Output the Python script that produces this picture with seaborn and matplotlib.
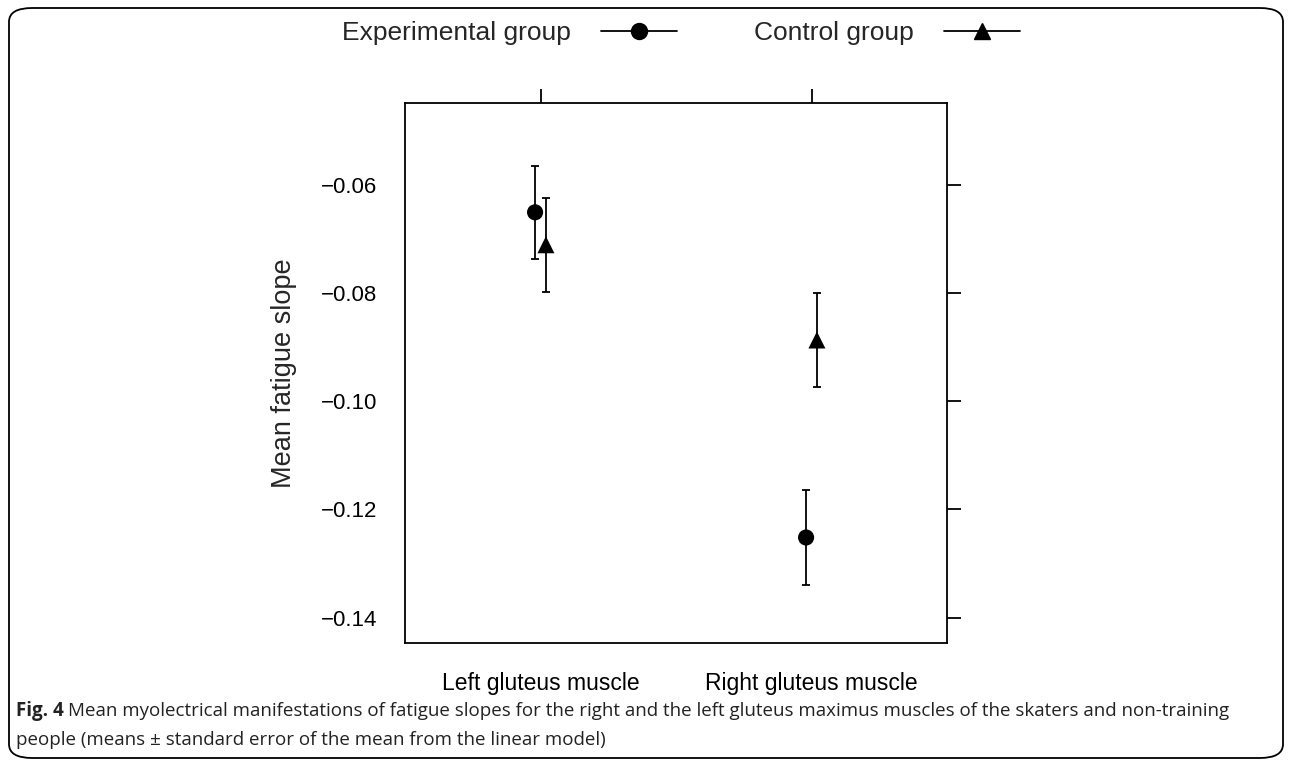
import matplotlib
matplotlib.use("Agg")
import matplotlib.pyplot as plt
import seaborn as sns
import pandas as pd
from matplotlib.lines import Line2D
from matplotlib.patches import FancyBboxPatch

# ---- data ----
muscles = ["Left gluteus muscle", "Right gluteus muscle"]
groups = ["Experimental group", "Control group"]
exp_mean = [-0.0651, -0.1252]
exp_se = [0.0086, 0.0087]
ctl_mean = [-0.0711, -0.0887]
ctl_se = [0.0087, 0.0086]
y_ticks = [-0.14, -0.12, -0.10, -0.08, -0.06]

sns.set_theme(style="white")
plt.rcParams["font.family"] = ["Liberation Sans", "DejaVu Sans"]

W, H = 1292, 766
fig = plt.figure(figsize=(W / 100, H / 100), dpi=100)

# rounded outer border
fig.patches.append(FancyBboxPatch((9 / W, 8 / H), (1283 - 9) / W, (758 - 8) / H,
                                  boxstyle="round,pad=0,rounding_size=0.018",
                                  transform=fig.transFigure, fill=False,
                                  edgecolor="black", linewidth=1.3))

ax = fig.add_axes([405 / W, 1 - 643 / H, (947 - 405) / W, (643 - 103) / H])

rows = []
for i, m in enumerate(muscles):
    rows.append(dict(muscle=m, group=groups[0], x=i + 1 - 0.02, mean=exp_mean[i], se=exp_se[i]))
    rows.append(dict(muscle=m, group=groups[1], x=i + 1 + 0.02, mean=ctl_mean[i], se=ctl_se[i]))
df = pd.DataFrame(rows)

ax.errorbar(df["x"], df["mean"], yerr=df["se"], fmt="none", ecolor="black",
            elinewidth=1.3, capsize=3.1, capthick=1.3, zorder=2)
sns.scatterplot(data=df, x="x", y="mean", style="group",
                markers={groups[0]: "o", groups[1]: "^"},
                size="group", sizes={groups[0]: 135, groups[1]: 150},
                color="black", ax=ax, legend=False, zorder=3,
                edgecolor="black", linewidth=0)

ax.set_xlim(0.5, 2.5)
ax.set_ylim(-0.1447, -0.0449)
ax.set_xticks([1, 2])
ax.set_xticklabels(muscles, fontsize=16.5)
ax.set_yticks(y_ticks)
ax.set_yticklabels([f"\u2212{abs(v):.2f}" for v in y_ticks], fontsize=16)
ax.set_xlabel("")
ax.set_ylabel("Mean fatigue slope", fontsize=19.5)
ax.yaxis.set_label_coords((297 - 405) / (947 - 405), 0.5)
ax.tick_params(axis="both", which="both", direction="out", length=10, width=1.3,
               color="black", top=True, right=True, labeltop=False, labelright=False,
               pad=10, labelcolor="black")
ax.tick_params(axis="x", pad=11)
for s in ax.spines.values():
    s.set_visible(True)
    s.set_color("black")
    s.set_linewidth(1.3)
ax.set_facecolor("white")
ax.grid(False)

# legend
handles = [Line2D([], [], color="black", lw=1.3, marker="o", markersize=11.5),
           Line2D([], [], color="black", lw=1.3, marker="^", markersize=12)]
fig.legend(handles, groups, ncol=2, markerfirst=False, frameon=False, loc="center",
           bbox_to_anchor=(681 / W, 1 - 33 / H), fontsize=19, handlelength=2.9,
           handletextpad=1.15, columnspacing=2.9)

# caption
cap_font = ["Open Sans", "DejaVu Sans"]
fig.text(16 / W, 1 - 711 / H, "Fig. 4", fontsize=13.5, fontweight="bold",
         family=cap_font, va="center", color="#222222")
fig.text(68 / W, 1 - 711 / H,
         "Mean myolectrical manifestations of fatigue slopes for the right and the left gluteus maximus muscles of the skaters and non-training",
         fontsize=13.5, family=cap_font, va="center", color="#222222")
fig.text(16 / W, 1 - 740 / H,
         "people (means \u00b1 standard error of the mean from the linear model)",
         fontsize=13.5, family=cap_font, va="center", color="#222222")

fig.savefig("out.png", dpi=100, facecolor="white")
